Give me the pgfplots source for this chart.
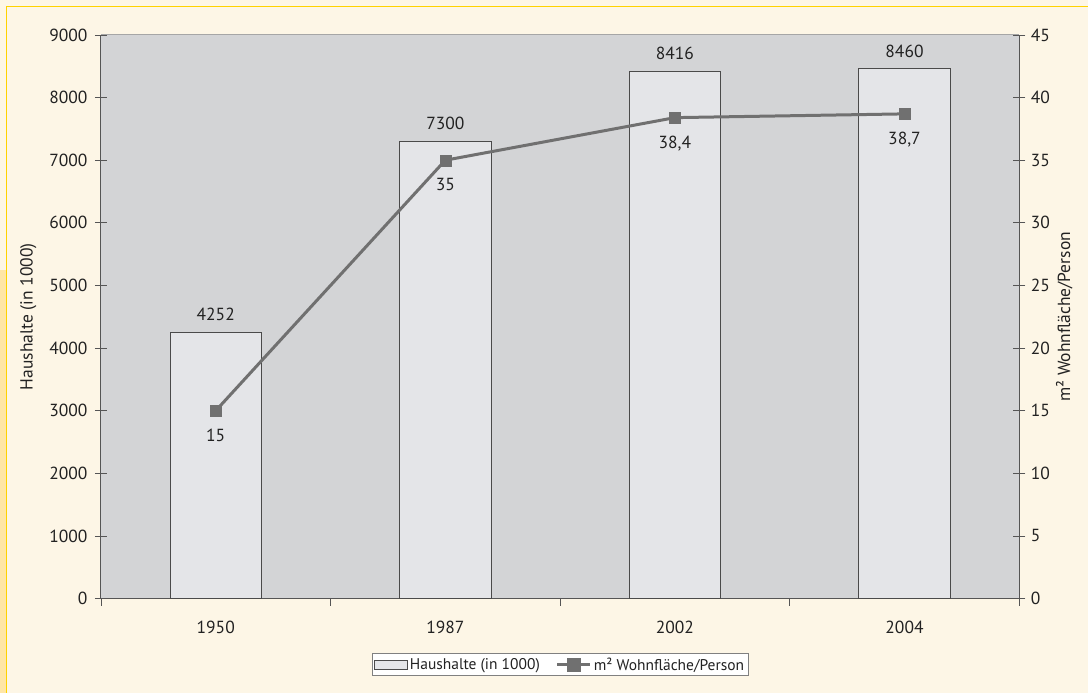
\documentclass[border=0pt]{standalone}
\usepackage{pgfplots}
\pgfplotsset{compat=1.18}
\usepackage{fontspec}
\setmainfont{PT Sans}

\definecolor{cream}{HTML}{FDF6E6}
\definecolor{strip}{HTML}{FFE6A6}
\definecolor{frame}{HTML}{FFD200}
\definecolor{plotbg}{HTML}{D3D4D6}
\definecolor{barfill}{HTML}{E4E5E8}
\definecolor{bardraw}{HTML}{4A4A4A}
\definecolor{linegray}{HTML}{707070}
\definecolor{axisgray}{HTML}{555555}
\definecolor{txt}{HTML}{222222}

\begin{document}
\begin{tikzpicture}[font=\fontsize{17.5}{20}\selectfont, text=txt]
\fill[cream] (0,0) rectangle (1089pt,693pt);
\fill[strip] (0,0) rectangle (6pt,423pt);
\draw[frame, line width=1.5pt] (6.5pt,0) -- (6.5pt,686.5pt) -- (1089pt,686.5pt);

\pgfplotsset{
  common/.style={
    at={(101pt,94pt)}, anchor=south west,
    width=919pt, height=564pt, scale only axis,
    xmin=-0.5, xmax=3.5,
    /pgf/number format/assume math mode=true,
    /pgf/number format/use comma,
    /pgf/number format/1000 sep={},
    scaled y ticks=false,
    axis line style={draw=axisgray, line width=1pt},
    major tick length=12pt,
    tick align=center,
    tick style={draw=axisgray, line width=0.8pt},
  }
}

% Haushalte (bars, left axis)
\begin{axis}[
  common,
  ymin=0, ymax=9000,
  axis x line*=bottom, axis y line*=left,
  axis background/.style={fill=plotbg},
  ytick={0,1000,...,9000},
  yticklabel style={xshift=-4pt},
  xtick={0,1,2,3},
  xticklabels={1950,1987,2002,2004},
  major x tick style={draw=none},
  minor xtick={-0.5,0.5,1.5,2.5,3.5},
  minor tick length=7pt,
  minor x tick style={draw=axisgray, line width=0.8pt, yshift=-3.5pt},
  xticklabel style={yshift=-13pt},
  ylabel={Haushalte (in 1000)},
  every axis y label/.style={at={(axis description cs:-0.079,0.5)}, rotate=90, anchor=center},
]
\draw[draw=gray!70, line width=1pt] (rel axis cs:0,1) -- (rel axis cs:1,1);
\addplot[ybar, bar width=91.5pt, fill=barfill, draw=bardraw, line width=1pt,
  nodes near coords,
  nodes near coords style={anchor=south, inner sep=0pt, yshift=11pt, text=txt}]
  coordinates {(0,4252) (1,7300) (2,8416) (3,8460)};
\end{axis}

% Wohnflaeche (line, right axis)
\begin{axis}[
  common,
  ymin=0, ymax=45,
  axis x line=none, axis y line*=right,
  ytick={0,5,...,45},
  yticklabel style={xshift=2pt},
  ylabel={m² Wohnfläche/Person},
  every axis y label/.style={at={(axis description cs:1.049,0.5)}, rotate=90, anchor=center},
  legend columns=2,
  legend style={at={(0.5,-0.117)}, anchor=center, draw=gray, fill=white,
    font=\fontsize{15.5}{18}\selectfont, inner sep=2pt,
    /tikz/every even column/.append style={column sep=14pt}},
]
\addlegendimage{legend image code/.code={
  \draw[fill=barfill, draw=bardraw, line width=0.8pt] (0pt,-4.5pt) rectangle (33pt,4.5pt);}}
\addlegendentry{Haushalte (in 1000)}
\addplot[linegray, line width=3pt, mark=square*, mark size=5.5pt,
  mark options={solid, line width=0.3pt, fill=linegray},
  nodes near coords,
  nodes near coords style={anchor=north, inner sep=0pt, yshift=-18pt, text=txt},
  legend image code/.code={
    \draw[linegray, line width=3pt] (0pt,0pt) -- (33pt,0pt);
    \fill[linegray] (11pt,-5.5pt) rectangle (22pt,5.5pt);}]
  coordinates {(0,15) (1,35) (2,38.4) (3,38.7)};
\addlegendentry{m² Wohnfläche/Person}
\end{axis}
\end{tikzpicture}
\end{document}
